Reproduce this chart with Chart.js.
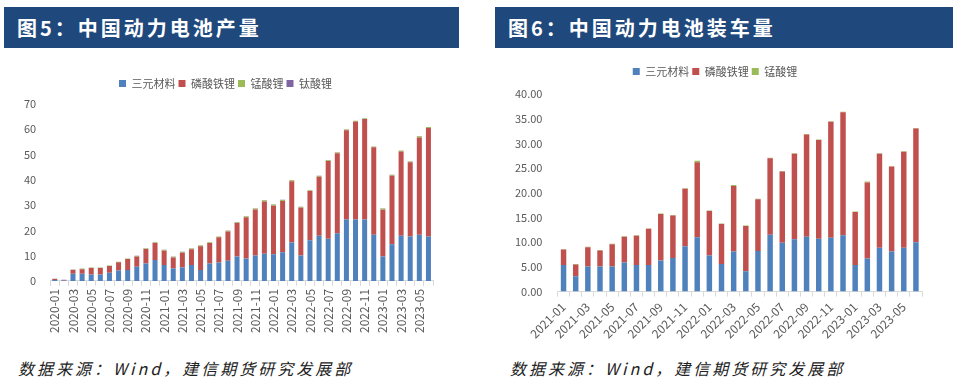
<!DOCTYPE html>
<html>
<head>
<meta charset="utf-8">
<script src="https://cdn.jsdelivr.net/npm/chart.js@4/dist/chart.umd.min.js"></script>
<style>
  body { margin: 0; background: #fff; width: 962px; height: 386px; position: relative; overflow: hidden; }
  .head { position: absolute; top: 7px; height: 41px; background: #1f497d; color: #fff;
          font: bold 20px "Noto Sans CJK SC", sans-serif; letter-spacing: 3px; line-height: 41px;
          padding-left: 13px; box-sizing: border-box; }
  .box { position: absolute; top: 58px; }
  .src { position: absolute; top: 356px; font: italic 16px "Noto Sans CJK SC", sans-serif;
         color: #222; letter-spacing: 3px; }
</style>
</head>
<body>
<div class="head" style="left:4px;width:455px">图5：中国动力电池产量</div>
<div class="head" style="left:495px;width:458px">图6：中国动力电池装车量</div>
<div class="box" style="left:0;width:470px;height:282px"><canvas id="prod"></canvas></div>
<div class="box" style="left:490px;width:472px;height:290px"><canvas id="inst"></canvas></div>
<div class="src" style="left:18px">数据来源：Wind，建信期货研究发展部</div>
<div class="src" style="left:510px">数据来源：Wind，建信期货研究发展部</div>
<script>
// ---- 图5 动力电池产量 (GWh), 2020-01 .. 2023-06
const prodMonths = [
  '2020-01','2020-02','2020-03','2020-04','2020-05','2020-06','2020-07','2020-08','2020-09','2020-10','2020-11','2020-12',
  '2021-01','2021-02','2021-03','2021-04','2021-05','2021-06','2021-07','2021-08','2021-09','2021-10','2021-11','2021-12',
  '2022-01','2022-02','2022-03','2022-04','2022-05','2022-06','2022-07','2022-08','2022-09','2022-10','2022-11','2022-12',
  '2023-01','2023-02','2023-03','2023-04','2023-05','2023-06'];
const prodTernary = [0.3,0.1,2.8,2.8,2.5,2.5,3.2,4.1,4.3,5.6,6.9,8.3,
  6.3,4.9,5.3,6.3,4.3,6.9,7.3,8.0,9.6,8.9,10.0,10.7,
  10.5,11.3,15.2,10.0,16.1,17.9,16.7,18.8,24.3,24.3,24.3,18.3,
  9.6,14.5,17.9,17.6,18.3,17.6];
const prodLfp = [0.45,0.25,1.55,1.85,2.55,2.55,2.65,3.25,4.35,4.05,5.75,6.65,
  5.65,4.35,5.85,6.25,9.45,8.05,9.95,11.55,13.35,16.25,18.25,20.75,
  19.25,20.35,24.25,18.95,19.45,23.35,30.75,31.75,35.35,38.75,39.75,34.55,
  18.55,27.15,33.35,29.35,38.45,42.95];
const prodLmo = [0,0,0.1,0.2,0.2,0.2,0.2,0.2,0.2,0.2,0.2,0.3,
  0.3,0.3,0.3,0.3,0.3,0.3,0.3,0.3,0.3,0.4,0.4,0.5,
  0.5,0.4,0.4,0.3,0.3,0.3,0.3,0.3,0.3,0.3,0.3,0.3,
  0.5,0.3,0.3,0.3,0.5,0.3];
const prodLto = [0.05,0.05,0.05,0.05,0.05,0.05,0.05,0.05,0.05,0.05,0.05,0.05,
  0.05,0.05,0.05,0.05,0.05,0.05,0.05,0.05,0.05,0.05,0.05,0.05,
  0.05,0.05,0.05,0.05,0.05,0.05,0.05,0.05,0.05,0.05,0.05,0.05,
  0.05,0.05,0.05,0.05,0.05,0.05];
const prodTicks = [0,10,20,30,40,50,60,70];

// ---- 图6 动力电池装车量 (GWh), 2021-01 .. 2023-06
const instMonths = prodMonths.slice(12);
const instTernary = [5.4,3.1,5.1,5.1,5.1,5.9,5.4,5.4,6.3,6.8,9.2,11.0,
  7.3,5.6,8.1,4.1,8.2,11.5,9.9,10.6,11.1,10.7,10.9,11.4,
  5.4,6.7,8.9,8.1,8.9,10.0];
const instLfp = [3.1,2.4,3.9,3.2,4.5,5.2,5.9,7.3,9.4,8.6,11.6,15.2,
  9.0,8.1,13.3,9.2,10.5,15.5,14.4,17.3,20.7,20.0,23.5,24.9,
  10.7,15.4,19.0,17.2,19.4,23.0];
const instLmo = [0.1,0.1,0.1,0.1,0.1,0.1,0.1,0.1,0.1,0.1,0.1,0.3,
  0.1,0.1,0.2,0.1,0.1,0.1,0.1,0.1,0.1,0.1,0.1,0.1,
  0.1,0.2,0.1,0.1,0.1,0.1];
const instTicks = [0,5,10,15,20,25,30,35,40];

const BLUE = '#4f81bd', RED = '#c0504d', GREEN = '#9bbb59', PURPLE = '#8064a2';
const FONT = "'Noto Sans CJK SC', sans-serif";

function series(label, data, color, barPct) {
  return { label, data, backgroundColor: color, borderWidth: 0,
           barPercentage: barPct, categoryPercentage: 1 };
}

// extra space between legend and plot
function legendGap(gap) {
  return {
    id: 'legendGap',
    beforeInit(chart) {
      const fit = chart.legend.fit;
      chart.legend.fit = function () { fit.call(this); this.height += gap; };
    },
  };
}

function stackedChart(id, labels, datasets, ticks, opt) {
  return new Chart(document.getElementById(id), {
    type: 'bar',
    data: { labels, datasets },
    plugins: [legendGap(opt.gap)],
    options: {
      responsive: true,
      maintainAspectRatio: false,
      animation: false,
      layout: { padding: opt.padding },
      plugins: {
        legend: {
          position: 'top',
          labels: {
            color: '#595959',
            font: { family: FONT, size: 11 },
            boxWidth: 7, boxHeight: 7,
            padding: 3,
          },
        },
        tooltip: { enabled: false },
      },
      scales: {
        x: {
          stacked: true,
          grid: { drawOnChartArea: false, color: '#d9d9d9', tickLength: 5 },
          border: { color: '#d9d9d9' },
          ticks: {
            color: '#595959',
            font: { family: FONT, size: 12 },
            autoSkip: false,
            minRotation: opt.rot, maxRotation: opt.rot,
            callback: (v, i) => i % 2 === 0 ? labels[i] : '',
          },
        },
        y: {
          stacked: true,
          min: 0, max: ticks[ticks.length - 1],
          afterBuildTicks: ax => { ax.ticks = ticks.map(v => ({ value: v })); },
          grid: { display: false },
          border: { display: false },
          ticks: {
            color: '#595959',
            font: { family: FONT, size: 11 },
            padding: opt.ypad,
            callback: v => v.toFixed(opt.dec),
          },
        },
      },
    },
  });
}

stackedChart('prod', prodMonths, [
  series('三元材料', prodTernary, BLUE, 0.55),
  series('磷酸铁锂', prodLfp, RED, 0.55),
  series('锰酸锂', prodLmo, GREEN, 0.55),
  series('钛酸锂', prodLto, PURPLE, 0.55),
], prodTicks, { padding: { left: 18, right: 37, top: 17, bottom: 4 }, gap: 5, rot: 90, ypad: 6, dec: 0 });

stackedChart('inst', instMonths, [
  series('三元材料', instTernary, BLUE, 0.45),
  series('磷酸铁锂', instLfp, RED, 0.45),
  series('锰酸锂', instLmo, GREEN, 0.45),
], instTicks, { padding: { left: 18, right: 40, top: 5, bottom: 4 }, gap: 7, rot: 45, ypad: 7, dec: 2 });
</script>
</body>
</html>
